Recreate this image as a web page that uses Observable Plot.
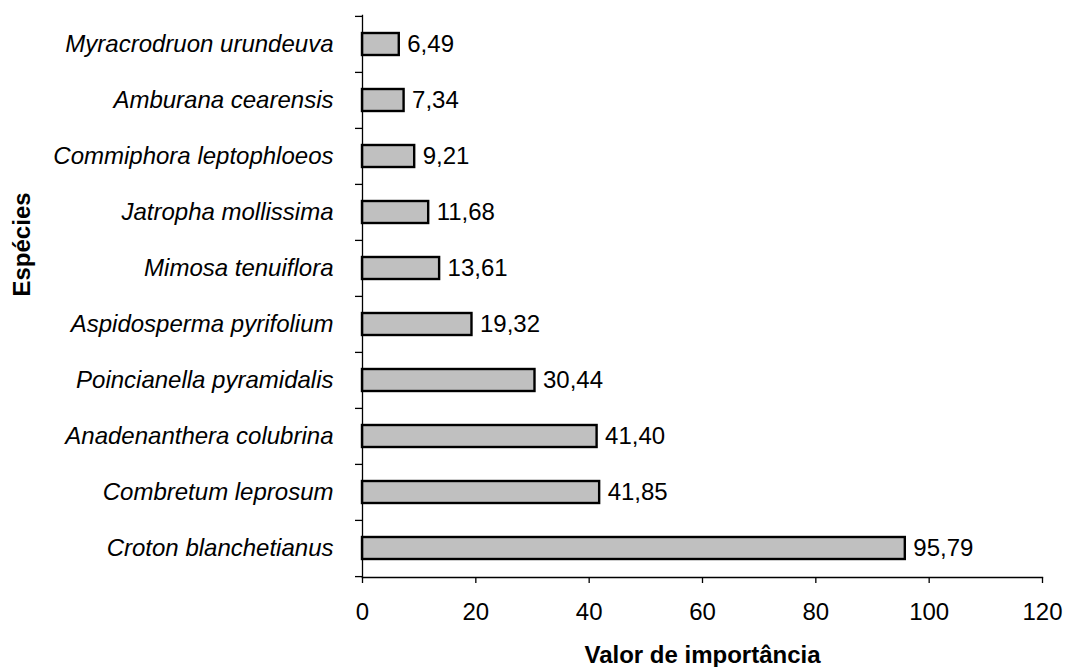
<!DOCTYPE html>
<html>
<head>
<meta charset="utf-8">
<script src="https://cdn.jsdelivr.net/npm/d3@7"></script>
<script src="https://cdn.jsdelivr.net/npm/@observablehq/plot@0.6"></script>
<style>
  html, body { margin: 0; padding: 0; background: white; }
</style>
</head>
<body>
<div id="chart"></div>
<script>
const species = [
  "Myracrodruon urundeuva",
  "Amburana cearensis",
  "Commiphora leptophloeos",
  "Jatropha mollissima",
  "Mimosa tenuiflora",
  "Aspidosperma pyrifolium",
  "Poincianella pyramidalis",
  "Anadenanthera colubrina",
  "Combretum leprosum",
  "Croton blanchetianus"
];
const values = [6.49, 7.34, 9.21, 11.68, 13.61, 19.32, 30.44, 41.40, 41.85, 95.79];
const xTicks = [0, 20, 40, 60, 80, 100, 120];
const xTitle = "Valor de importância";
const yTitle = "Espécies";

const data = species.map((s, i) => ({name: s, value: values[i]}));
const fmt = v => v.toFixed(2).replace(".", ",");

const W = 1065, H = 667;
const mTop = 15, mBottom = 90, mLeft = 362, mRight = 23;
const halfStep = (H - mTop - mBottom) / species.length / 2;

const chart = Plot.plot({
  width: W,
  height: H,
  marginTop: mTop,
  marginBottom: mBottom,
  marginLeft: mLeft,
  marginRight: mRight,
  style: {fontFamily: "'Liberation Sans', Arial, sans-serif", fontSize: "24px", color: "black", background: "white"},
  x: {domain: [0, 120], axis: null},
  y: {domain: species, paddingInner: 0.6, paddingOuter: 0.3, axis: null},
  marks: [
    Plot.barX(data, {x: "value", y: "name", fill: "#c0c0c0", stroke: "black", strokeWidth: 2.4}),
    Plot.text(data, {x: "value", y: "name", text: d => fmt(d.value), dx: 8, textAnchor: "start", fontSize: 24, fill: "black"}),
    Plot.frame({anchor: "left", stroke: "black", strokeWidth: 1.3}),
    Plot.frame({anchor: "bottom", stroke: "black", strokeWidth: 1.3}),
    Plot.axisX({ticks: xTicks, tickSize: 6, tickPadding: 19, fontSize: 24, label: null, stroke: "black", strokeWidth: 1.3}),
    Plot.axisY({tickSize: 0, tickPadding: 29, fontSize: 24, fontStyle: "italic", label: null}),
    Plot.axisY({tickSize: 7, text: null, dy: -halfStep, label: null, stroke: "black", strokeWidth: 1.3}),
    Plot.axisY({ticks: [species[species.length - 1]], tickSize: 7, text: null, dy: halfStep, label: null, stroke: "black", strokeWidth: 1.3}),
    Plot.text([xTitle], {frameAnchor: "bottom", dy: 78, fontWeight: "bold", fontSize: 24, lineAnchor: "middle", text: d => d, fill: "black"}),
    Plot.text([yTitle], {frameAnchor: "left", dx: -340, rotate: -90, fontWeight: "bold", fontSize: 24, lineAnchor: "middle", text: d => d, fill: "black"})
  ]
});
document.getElementById("chart").appendChild(chart);
</script>
</body>
</html>
